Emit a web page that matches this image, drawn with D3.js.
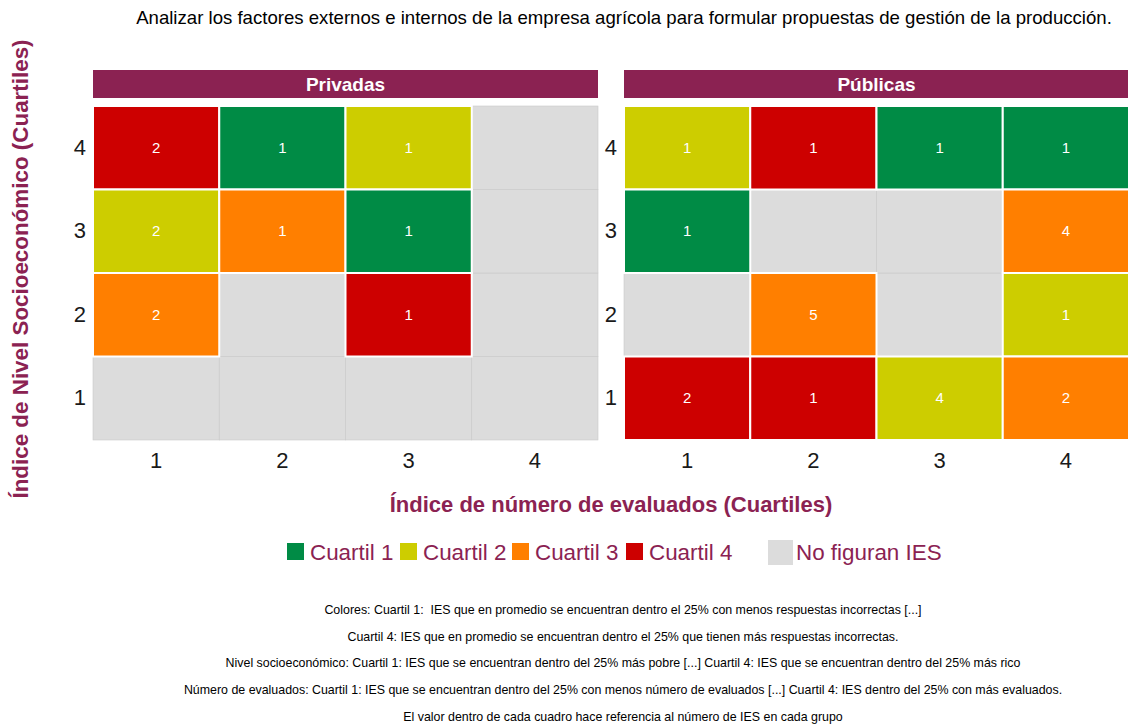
<!DOCTYPE html>
<html>
<head>
<meta charset="utf-8">
<style>
body { margin: 0; background: #fff; }
text { font-family: "Liberation Sans", Arial, sans-serif; }
.cap { white-space: pre; }
</style>
</head>
<body>
<script src="https://cdn.jsdelivr.net/npm/d3@7"></script>
<script>
// data: panels, quartiles and tiles (x = evaluados, y = nivel socioeconomico)
var panels = ["Privadas", "Públicas"];
var quartiles = ["1", "2", "3", "4"];
var legendLabels = ["Cuartil 1", "Cuartil 2", "Cuartil 3", "Cuartil 4"];
var privX = [1, 2, 3, 1, 2, 3, 1, 3];
var privY = [4, 4, 4, 3, 3, 3, 2, 2];
var privQ = [4, 1, 2, 2, 3, 1, 3, 4];
var privN = [2, 1, 1, 2, 1, 1, 2, 1];
var pubX = [1, 2, 3, 4, 1, 4, 2, 4, 1, 2, 3, 4];
var pubY = [4, 4, 4, 4, 3, 3, 2, 2, 1, 1, 1, 1];
var pubQ = [2, 4, 1, 1, 1, 3, 3, 2, 4, 4, 2, 3];
var pubN = [1, 1, 1, 1, 1, 4, 5, 1, 2, 1, 4, 2];
var captions = [
  "Colores: Cuartil 1:  IES que en promedio se encuentran dentro el 25% con menos respuestas incorrectas [...]",
  "Cuartil 4: IES que en promedio se encuentran dentro el 25% que tienen más respuestas incorrectas.",
  "Nivel socioeconómico: Cuartil 1: IES que se encuentran dentro del 25% más pobre [...] Cuartil 4: IES que se encuentran dentro del 25% más rico",
  "Número de evaluados: Cuartil 1: IES que se encuentran dentro del 25% con menos número de evaluados [...] Cuartil 4: IES dentro del 25% con más evaluados.",
  "El valor dentro de cada cuadro hace referencia al número de IES en cada grupo"
];

var maroon = "#8B2252";
var grey = "#DCDCDC";
var colors = ["#008B45", "#CDCD00", "#FF7F00", "#CD0000"];

var width = 1128, height = 726;
var svg = d3.select("body").append("svg")
  .attr("width", width)
  .attr("height", height);

function rows(xs, ys, qs, ns) {
  return xs.map(function (d, i) { return { x: "" + d, y: "" + ys[i], q: qs[i], n: ns[i] }; });
}
var tiles = [rows(privX, privY, privQ, privN), rows(pubX, pubY, pubQ, pubN)];

// panel geometry
var panelLeft = [93, 624];
var panelW = 505;
var panelTop = 106, panelBot = 440;

var color = d3.scaleOrdinal().domain([1, 2, 3, 4]).range(colors);

// title
svg.append("text")
  .attr("x", 624).attr("y", 24)
  .attr("text-anchor", "middle")
  .attr("font-size", 18.6)
  .attr("fill", "#000")
  .text("Analizar los factores externos e internos de la empresa agrícola para formular propuestas de gestión de la producción.");

panels.forEach(function (p, k) {
  var x = d3.scaleBand().domain(quartiles).range([panelLeft[k], panelLeft[k] + panelW]);
  var y = d3.scaleBand().domain(quartiles.slice().reverse()).range([panelTop, panelBot]);
  var g = svg.append("g");

  // strip
  g.append("rect")
    .attr("x", panelLeft[k]).attr("y", 70)
    .attr("width", panelW).attr("height", 28)
    .attr("fill", maroon);
  g.append("text")
    .attr("x", panelLeft[k] + panelW / 2).attr("y", 91)
    .attr("text-anchor", "middle")
    .attr("font-size", 19).attr("font-weight", "bold")
    .attr("fill", "#fff")
    .text(p);

  // grey background cells
  var all = [];
  quartiles.forEach(function (a) { quartiles.forEach(function (b) { all.push({ x: a, y: b }); }); });
  g.selectAll(".bg").data(all).enter().append("rect")
    .attr("x", function (d) { return x(d.x); })
    .attr("y", function (d) { return y(d.y); })
    .attr("width", x.bandwidth()).attr("height", y.bandwidth())
    .attr("fill", grey)
    .attr("stroke", "#c9c9c9").attr("stroke-width", 0.6);

  // colored tiles
  g.selectAll(".tile").data(tiles[k]).enter().append("rect")
    .attr("x", function (d) { return x(d.x); })
    .attr("y", function (d) { return y(d.y); })
    .attr("width", x.bandwidth()).attr("height", y.bandwidth())
    .attr("fill", function (d) { return color(d.q); })
    .attr("stroke", "#fff").attr("stroke-width", 2);

  g.selectAll(".lab").data(tiles[k]).enter().append("text")
    .attr("x", function (d) { return x(d.x) + x.bandwidth() / 2; })
    .attr("y", function (d) { return y(d.y) + y.bandwidth() / 2 + 5; })
    .attr("text-anchor", "middle")
    .attr("font-size", 15)
    .attr("fill", "#fff")
    .text(function (d) { return d.n; });

  // axes
  var xa = g.append("g").attr("transform", "translate(0," + panelBot + ")")
    .call(d3.axisBottom(x).tickSize(0).tickPadding(12));
  var ya = g.append("g").attr("transform", "translate(" + panelLeft[k] + ",0)")
    .call(d3.axisLeft(y).tickSize(0).tickPadding(7));
  [xa, ya].forEach(function (a) {
    a.select(".domain").remove();
    a.selectAll("text")
      .attr("font-size", 22)
      .attr("font-family", "Liberation Sans, Arial, sans-serif")
      .attr("fill", "#1a1a1a");
  });
});

// axis titles
svg.append("text")
  .attr("x", 611).attr("y", 512)
  .attr("text-anchor", "middle")
  .attr("font-size", 22).attr("font-weight", "bold")
  .attr("fill", maroon)
  .text("Índice de número de evaluados (Cuartiles)");

svg.append("text")
  .attr("transform", "translate(28,269) rotate(-90)")
  .attr("text-anchor", "middle")
  .attr("font-size", 22.4).attr("font-weight", "bold")
  .attr("fill", maroon)
  .text("Índice de Nivel Socioeconómico (Cuartiles)");

// legend
var legX = [287, 400, 512, 626];
legendLabels.forEach(function (l, i) {
  svg.append("rect")
    .attr("x", legX[i]).attr("y", 543)
    .attr("width", 17).attr("height", 17)
    .attr("fill", colors[i]);
  svg.append("text")
    .attr("x", legX[i] + 23).attr("y", 560)
    .attr("font-size", 22.4)
    .attr("fill", maroon)
    .text(l);
});
svg.append("rect")
  .attr("x", 768).attr("y", 540)
  .attr("width", 25).attr("height", 25)
  .attr("fill", grey);
svg.append("text")
  .attr("x", 796).attr("y", 560)
  .attr("font-size", 22.4)
  .attr("fill", maroon)
  .text("No figuran IES");

// captions
svg.selectAll(".cap").data(captions).enter().append("text")
  .attr("class", "cap")
  .attr("x", 623)
  .attr("y", function (d, i) { return 614 + i * 26.7; })
  .attr("text-anchor", "middle")
  .attr("font-size", 12.4)
  .attr("fill", "#000")
  .text(function (d) { return d; });
</script>
</body>
</html>
